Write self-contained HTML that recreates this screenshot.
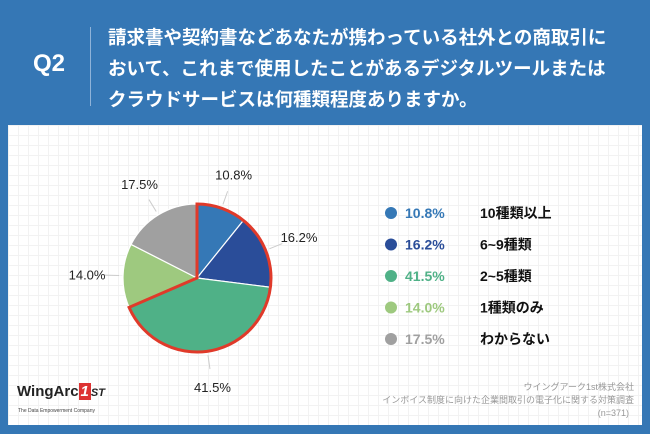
<!DOCTYPE html>
<html><head><meta charset="utf-8"><style>
body{margin:0;width:650px;height:434px;background:#3577b5;font-family:"Liberation Sans","Noto Sans CJK JP",sans-serif;overflow:hidden;position:relative}
.q{position:absolute;left:33px;top:50px;color:#fff;font-size:24px;font-weight:bold}
.div{position:absolute;left:90px;top:27px;width:1px;height:79px;background:#8fb3d9}
.title{position:absolute;left:108px;top:22px;color:#fff;font-size:18.5px;font-weight:bold;line-height:31px;font-family:"Noto Sans CJK JP",sans-serif}
.panel{position:absolute;left:8px;top:125px;width:634px;height:300px;background:#fff;
background-image:linear-gradient(#f2f2f2 1px,transparent 1px),linear-gradient(90deg,#f2f2f2 1px,transparent 1px);background-size:10px 10px}
</style></head><body>
<div class="q">Q2</div>
<div class="div"></div>
<div class="title">請求書や契約書などあなたが携わっている社外との商取引に<br>おいて、これまで使用したことがあるデジタルツールまたは<br>クラウドサービスは何種類程度ありますか。</div>
<div class="panel"></div>
<svg id="chart" width="650" height="434" style="position:absolute;left:0;top:0"></svg>
<script>
const categories=["10種類以上","6~9種類","2~5種類","1種類のみ","わからない"];
const values=[10.8,16.2,41.5,14.0,17.5];
const valueLabels=["10.8%","16.2%","41.5%","14.0%","17.5%"];
const colors=["#3578b6","#2a4d99","#4fb187","#9ec97f","#a0a0a0"];
const highlighted=[true,true,true,false,false];
const svg=document.getElementById('chart');
const NS="http://www.w3.org/2000/svg";
const cx=197,cy=278,r=74;
function mk(t,a){const e=document.createElementNS(NS,t);for(const k in a)e.setAttribute(k,a[k]);svg.appendChild(e);return e;}
function pt(a,rr){return [cx+rr*Math.sin(a),cy-rr*Math.cos(a)];}
const total=values.reduce((s,v)=>s+v,0);
let a0=0;const angles=[];
values.forEach((v,i)=>{const a1=a0+v/total*2*Math.PI;angles.push([a0,a1]);
 const p0=pt(a0,r),p1=pt(a1,r),lg=(a1-a0)>Math.PI?1:0;
 const s=mk('path',{d:`M${cx},${cy}L${p0[0]},${p0[1]}A${r},${r} 0 ${lg} 1 ${p1[0]},${p1[1]}Z`,fill:colors[i],stroke:'#fff','stroke-width':1.2});
 
 
 const m=(a0+a1)/2,q1=pt(m,r+4),q2=pt(m,r+18),lp=pt(m,r+36);
 const ln=mk('line',{x1:q1[0],y1:q1[1],x2:q2[0],y2:q2[1],stroke:'#ccc','stroke-width':1});
 
 
 const t=mk('text',{x:lp[0],y:lp[1]+5,'text-anchor':'middle','font-size':13,fill:'#222'});
 t.textContent=valueLabels[i];
 
 
 a0=a1;});
let hs=null,he=null;highlighted.forEach((h,i)=>{if(h){if(hs===null)hs=angles[i][0];he=angles[i][1];}});
if(hs!==null){const p0=pt(hs,r),p1=pt(he,r),lg=(he-hs)>Math.PI?1:0;
 const o=mk('path',{d:`M${cx},${cy}L${p0[0]},${p0[1]}A${r},${r} 0 ${lg} 1 ${p1[0]},${p1[1]}Z`,fill:'none',stroke:'#e03a2a','stroke-width':3,'stroke-linejoin':'miter'});
 
 }
categories.forEach((c,i)=>{const y=213+i*31.5;
 const d=mk('circle',{cx:391,cy:y,r:6,fill:colors[i]});
 
 
 const p=mk('text',{x:405,y:y+5,'font-size':14,fill:colors[i],'font-weight':'bold'});p.textContent=valueLabels[i];
 
 
 const l=mk('text',{x:480,y:y+5,'font-size':14,fill:'#111','font-weight':'bold'});l.textContent=c;
 
 });
</script>
<div style="position:absolute;left:17px;top:383px;font-size:15px;font-weight:bold;color:#222">WingArc<span style="background:#d33;color:#fff;padding:0 2px;font-style:italic">1</span><span style="font-size:11px;font-style:italic">ST</span></div>
<div style="position:absolute;left:18px;top:408px;font-size:5px;color:#444">The Data Empowerment Company</div>
<div style="position:absolute;left:330px;top:381px;width:304px;text-align:right;font-size:9px;color:#999;line-height:13px">ウイングアーク1st株式会社<br>インボイス制度に向けた企業間取引の電子化に関する対策調査<br>(n=371)&nbsp;&nbsp;</div>
</body></html>
